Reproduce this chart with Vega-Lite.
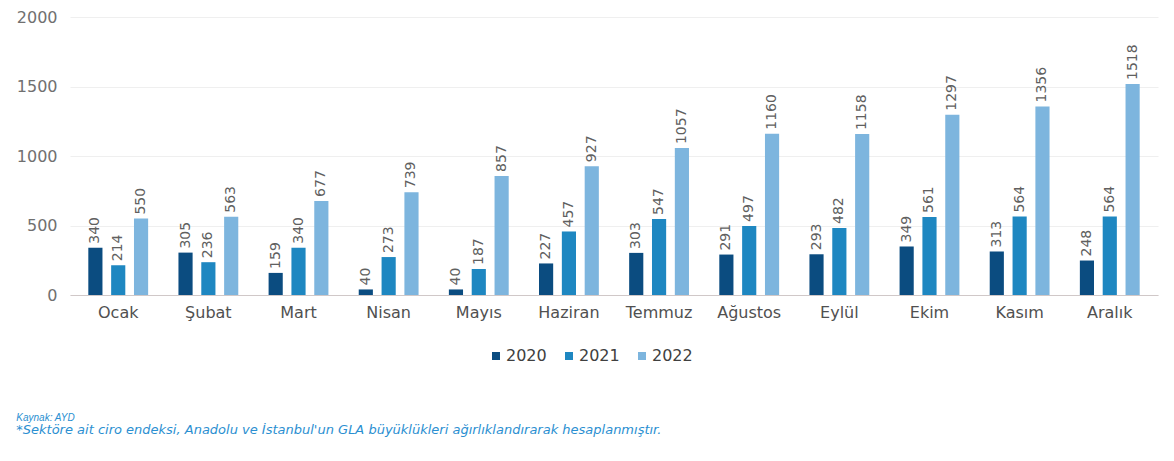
{
  "$schema": "https://vega.github.io/schema/vega-lite/v6.json",
  "width": 1088,
  "height": 278,
  "padding": {"left": 16, "top": 9, "right": 10, "bottom": 10},
  "background": "white",
  "title": {
    "text": "Kaynak: AYD",
    "subtitle": "*Sektöre ait ciro endeksi, Anadolu ve İstanbul'un GLA büyüklükleri ağırlıklandırarak hesaplanmıştır.",
    "orient": "bottom",
    "anchor": "start",
    "frame": "bounds",
    "font": "Liberation Sans",
    "fontSize": 10,
    "fontStyle": "italic",
    "fontWeight": "normal",
    "color": "#2b8fd1",
    "subtitleFont": "DejaVu Sans",
    "subtitleFontSize": 13,
    "subtitleFontStyle": "italic",
    "subtitleColor": "#2b8fd1",
    "subtitlePadding": 1,
    "offset": 49
  },
  "data": {
    "values": [
      {"month": "Ocak", "year": "2020", "value": 340},
      {"month": "Ocak", "year": "2021", "value": 214},
      {"month": "Ocak", "year": "2022", "value": 550},
      {"month": "Şubat", "year": "2020", "value": 305},
      {"month": "Şubat", "year": "2021", "value": 236},
      {"month": "Şubat", "year": "2022", "value": 563},
      {"month": "Mart", "year": "2020", "value": 159},
      {"month": "Mart", "year": "2021", "value": 340},
      {"month": "Mart", "year": "2022", "value": 677},
      {"month": "Nisan", "year": "2020", "value": 40},
      {"month": "Nisan", "year": "2021", "value": 273},
      {"month": "Nisan", "year": "2022", "value": 739},
      {"month": "Mayıs", "year": "2020", "value": 40},
      {"month": "Mayıs", "year": "2021", "value": 187},
      {"month": "Mayıs", "year": "2022", "value": 857},
      {"month": "Haziran", "year": "2020", "value": 227},
      {"month": "Haziran", "year": "2021", "value": 457},
      {"month": "Haziran", "year": "2022", "value": 927},
      {"month": "Temmuz", "year": "2020", "value": 303},
      {"month": "Temmuz", "year": "2021", "value": 547},
      {"month": "Temmuz", "year": "2022", "value": 1057},
      {"month": "Ağustos", "year": "2020", "value": 291},
      {"month": "Ağustos", "year": "2021", "value": 497},
      {"month": "Ağustos", "year": "2022", "value": 1160},
      {"month": "Eylül", "year": "2020", "value": 293},
      {"month": "Eylül", "year": "2021", "value": 482},
      {"month": "Eylül", "year": "2022", "value": 1158},
      {"month": "Ekim", "year": "2020", "value": 349},
      {"month": "Ekim", "year": "2021", "value": 561},
      {"month": "Ekim", "year": "2022", "value": 1297},
      {"month": "Kasım", "year": "2020", "value": 313},
      {"month": "Kasım", "year": "2021", "value": 564},
      {"month": "Kasım", "year": "2022", "value": 1356},
      {"month": "Aralık", "year": "2020", "value": 248},
      {"month": "Aralık", "year": "2021", "value": 564},
      {"month": "Aralık", "year": "2022", "value": 1518}
    ]
  },
  "encoding": {
    "x": {
      "field": "month",
      "type": "nominal",
      "sort": null,
      "scale": {"paddingInner": 0.24, "paddingOuter": 0.155},
      "axis": {
        "title": null,
        "labelAngle": 0,
        "labelFont": "DejaVu Sans",
        "labelFontSize": 16,
        "labelColor": "#505050",
        "labelPadding": 9,
        "ticks": false,
        "domainColor": "#d0c8c8",
        "domainWidth": 1
      }
    },
    "xOffset": {
      "field": "year",
      "type": "nominal",
      "scale": {"paddingInner": 0.38, "paddingOuter": 0.19}
    },
    "y": {
      "field": "value",
      "type": "quantitative",
      "scale": {"domain": [0, 2000]},
      "axis": {
        "title": null,
        "values": [0, 500, 1000, 1500, 2000],
        "format": "d",
        "labelFont": "DejaVu Sans",
        "labelFontSize": 16,
        "labelColor": "#707070",
        "labelPadding": 13,
        "ticks": false,
        "domain": false,
        "gridColor": "#efefef",
        "gridWidth": 1
      }
    }
  },
  "layer": [
    {
      "mark": {"type": "bar"},
      "encoding": {
        "color": {
          "field": "year",
          "type": "nominal",
          "scale": {"domain": ["2020", "2021", "2022"], "range": ["#0b4c80", "#1e87c1", "#7db5de"]},
          "legend": {
            "title": null,
            "orient": "none",
            "legendX": 418,
            "legendY": 331,
            "direction": "horizontal",
            "symbolType": "square",
            "symbolSize": 64,
            "symbolStrokeWidth": 0,
            "labelFont": "DejaVu Sans",
            "labelFontSize": 16,
            "labelColor": "#404040",
            "labelOffset": 2,
            "columnPadding": 14
          }
        }
      }
    },
    {
      "mark": {
        "type": "text",
        "angle": 270,
        "align": "left",
        "baseline": "middle",
        "dx": 4,
        "font": "DejaVu Sans",
        "fontSize": 14,
        "color": "#606060"
      },
      "encoding": {
        "text": {"field": "value", "type": "quantitative"}
      }
    }
  ],
  "config": {
    "view": {"stroke": null}
  }
}
